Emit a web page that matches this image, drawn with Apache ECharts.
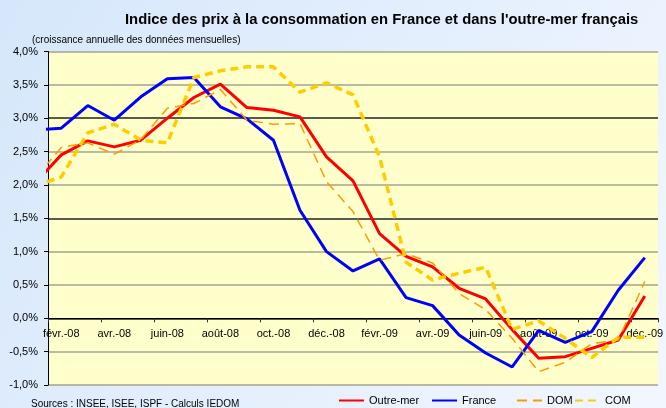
<!DOCTYPE html>
<html>
<head>
<meta charset="utf-8">
<script src="https://cdn.jsdelivr.net/npm/echarts@6/dist/echarts.min.js"></script>
<style>html,body{margin:0;padding:0;}#c{width:666px;height:408px;}</style>
</head>
<body>
<div id="c"></div>
<script>
// Months (janv.-08 is only partly visible at the left edge of the plot)
const months = ['janv.-08','févr.-08','mars-08','avr.-08','mai-08','juin-08','juil.-08','août-08','sept.-08','oct.-08','nov.-08','déc.-08',
                'janv.-09','févr.-09','mars-09','avr.-09','mai-09','juin-09','juil.-09','août-09','sept.-09','oct.-09','nov.-09','déc.-09'];
const outreMer = [2.02, 2.45, 2.66, 2.57, 2.67, 3.00, 3.31, 3.51, 3.16, 3.12, 3.02, 2.42,
                  2.06, 1.27, 0.93, 0.77, 0.45, 0.29, -0.17, -0.60, -0.575, -0.45, -0.325, 0.335];
const france   = [2.82, 2.85, 3.19, 2.97, 3.32, 3.59, 3.61, 3.17, 2.99, 2.67, 1.62, 1.00,
                  0.71, 0.89, 0.31, 0.19, -0.25, -0.52, -0.73, -0.18, -0.36, -0.20, 0.42, 0.91];
const dom      = [2.09, 2.56, 2.63, 2.46, 2.68, 3.15, 3.22, 3.43, 2.97, 2.91, 2.92, 2.05,
                  1.60, 0.87, 0.97, 0.83, 0.37, 0.13, -0.30, -0.80, -0.66, -0.38, -0.325, 0.55];
const com      = [1.98, 2.12, 2.78, 2.91, 2.67, 2.63, 3.61, 3.71, 3.77, 3.77, 3.39, 3.53,
                  3.35, 2.42, 0.84, 0.575, 0.675, 0.765, -0.165, -0.04, -0.30, -0.59, -0.285, -0.285];
const xLabels = months.slice(1);
const yMin = -1, yMax = 4, yStep = 0.5;

const FONT = '"Liberation Sans", Arial, sans-serif';
const pts = arr => arr.map((v, i) => [i, v]);

const gridTop = 51.5, gridH = 333.5;
// offset of the category axis so that it sits on the 0 % line
const zeroOffset = -gridH * (0 - yMin) / (yMax - yMin);

const chart = echarts.init(document.getElementById('c'), null, {renderer: 'canvas'});
const legendCommon = {
  orient: 'horizontal', top: 395, padding: 0, itemGap: 0, itemWidth: 25, itemHeight: 10,
  textStyle: {fontSize: 11, color: '#000', fontFamily: FONT}, selectedMode: false,
  itemStyle: {opacity: 0}
};
chart.setOption({
  animation: false,
  backgroundColor: {type: 'linear', x: 0, y: 0, x2: 1, y2: 1,
    colorStops: [{offset: 0, color: '#D6E7FB'}, {offset: 1, color: '#F2F7FF'}]},
  textStyle: {fontFamily: FONT},
  title: [
    {text: "Indice des prix à la consommation en France et dans l'outre-mer français",
     left: 125, top: 12, padding: 0,
     textStyle: {fontSize: 14.8, fontWeight: 'bold', color: '#000', fontFamily: FONT}},
    {text: '(croissance annuelle des données mensuelles)', left: 32, top: 35, padding: 0,
     textStyle: {fontSize: 10, fontWeight: 'normal', color: '#000', fontFamily: FONT}},
    {text: 'Sources : INSEE, ISEE, ISPF - Calculs IEDOM', left: 31, top: 399, padding: 0,
     textStyle: {fontSize: 10, fontWeight: 'normal', color: '#000', fontFamily: FONT}}
  ],
  grid: {left: 48, right: 2, top: gridTop, height: gridH, show: true, backgroundColor: '#FFFFCC', borderWidth: 0},
  legend: [
    Object.assign({data: ['Outre-mer'], left: 338}, legendCommon),
    Object.assign({data: ['France'], left: 431}, legendCommon),
    Object.assign({data: ['DOM'], left: 516}, legendCommon),
    Object.assign({data: ['COM'], left: 574}, legendCommon)
  ],
  xAxis: [
    {type: 'value', min: 0.5, max: 23.5, show: false, axisLine: {onZero: false}, splitLine: {show: false}},
    {type: 'category', data: xLabels, boundaryGap: true, position: 'bottom', offset: zeroOffset,
     axisLine: {onZero: false, lineStyle: {color: '#000', width: 1}},
     axisTick: {show: true, interval: 1, length: 4, lineStyle: {color: '#333'}},
     axisLabel: {interval: 1, fontSize: 11, color: '#000', margin: 10, fontFamily: FONT},
     splitLine: {show: false}}
  ],
  yAxis: {
    type: 'value', min: yMin, max: yMax, interval: yStep,
    axisLine: {show: true, onZero: false, lineStyle: {color: '#000', width: 1}},
    axisTick: {show: true, length: 4, lineStyle: {color: '#000'}},
    axisLabel: {fontSize: 11, color: '#000', margin: 10, fontFamily: FONT,
      formatter: v => v.toFixed(1).replace('.', ',') + '%'},
    splitLine: {show: true, lineStyle: {color: ['#a3a38f', '#a3a38f', '#222222'], width: 1.5}}
  },
  series: [
    {name: 'Outre-mer', type: 'line', xAxisIndex: 0, data: pts(outreMer), symbol: 'none', clip: true,
     lineStyle: {color: '#FF0000', width: 3}, itemStyle: {color: '#FF0000'}},
    {name: 'France', type: 'line', xAxisIndex: 0, data: pts(france), symbol: 'none', clip: true,
     lineStyle: {color: '#0000FF', width: 3}, itemStyle: {color: '#0000FF'}},
    {name: 'DOM', type: 'line', xAxisIndex: 0, data: pts(dom), symbol: 'none', clip: true,
     lineStyle: {color: '#FF9900', width: 1.5, type: [10, 6]}, itemStyle: {color: '#FF9900'}},
    {name: 'COM', type: 'line', xAxisIndex: 0, data: pts(com), symbol: 'none', clip: true,
     lineStyle: {color: '#FFCC00', width: 3.5, type: [8, 5]}, itemStyle: {color: '#FFCC00'}}
  ]
});
</script>
</body>
</html>
